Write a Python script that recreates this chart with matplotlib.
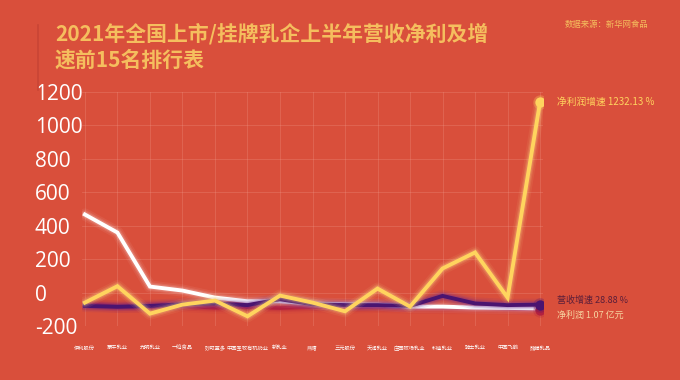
import matplotlib
matplotlib.use("Agg")
import matplotlib.pyplot as plt
import numpy as np

plt.rcParams['font.family'] = ['Noto Sans CJK SC', 'DejaVu Sans']

companies = ["伊利股份", "蒙牛乳业", "光明乳业", "一鸣食品", "妙可蓝多", "中国圣牧有机奶业",
             "新乳业", "燕塘", "三元股份", "天润乳业", "庄园牧场乳业", "科迪乳业",
             "骑士乳业", "中国飞鹤", "熊猫乳品"]
revenue = [467, 359, 36, 12, -30, -52, -52, -66, -70, -72, -84, -84, -90, -92, -95]
revenue_growth = [-80, -85, -80, -70, -65, -75, -40, -70, -75, -75, -80, -20, -65, -75, -72]
net_profit = [-70, -85, -85, -80, -90, -85, -92, -85, -90, -85, -90, -92, -92, -95, -102]
profit_growth = [-60, 38, -126, -72, -48, -142, -18, -60, -112, 24, -84, 144, 240, -30, 1140]
yticks = [-200, 0, 200, 400, 600, 800, 1000, 1200]

bg = '#D94F3B'
fig = plt.figure(figsize=(6.8, 3.8), dpi=100, facecolor=bg)
ax = fig.add_axes([82/680, 1-326/380, 461/680, 234/380], facecolor=bg)
x = np.arange(len(companies))

def glow_line(vals, color, lw, z, glow='#ffffff', galpha=0.06):
    for w, a in [(lw+6, galpha), (lw+3.5, galpha*1.6), (lw+1.8, galpha*2.5)]:
        ax.plot(x, vals, color=glow, lw=w, alpha=a, solid_capstyle='round', zorder=z)
    ax.plot(x, vals, color=color, lw=lw, solid_joinstyle='miter', zorder=z+0.5)

glow_line(net_profit, '#B3203F', 2.8, 3, glow='#B3203F', galpha=0.1)
glow_line(revenue, '#FFFFFF', 2.8, 4, glow='#FFFFFF', galpha=0.06)
glow_line(revenue_growth, '#4A1470', 2.8, 5, glow='#6A2890', galpha=0.1)
glow_line(profit_growth, '#FFD45E', 2.8, 6, glow='#FFE08A', galpha=0.08)

# end markers
for vals, c, gz in [(net_profit, '#B3203F', 7), (revenue_growth, '#4A1470', 8), (profit_growth, '#FFD45E', 9)]:
    ax.scatter([x[-1]], [vals[-1]], s=110, color=c, alpha=0.25, zorder=gz, linewidths=0)
    ax.scatter([x[-1]], [vals[-1]], s=55, color=c, zorder=gz, linewidths=0)

ax.annotate("净利润增速 1232.13 %", (x[-1], profit_growth[-1]), xytext=(12, 0),
            textcoords='offset points', va='center', ha='left', color='#FFD45E',
            fontsize=7, annotation_clip=False)
ax.annotate("营收增速 28.88 %", (x[-1], revenue_growth[-1]), xytext=(12, 3),
            textcoords='offset points', va='center', ha='left', color='#5A1E3A',
            fontsize=6.5, annotation_clip=False)
ax.annotate("净利润 1.07 亿元", (x[-1], net_profit[-1]), xytext=(12, -4),
            textcoords='offset points', va='center', ha='left', color='#F6D4A0',
            fontsize=6.5, annotation_clip=False)

ax.set_xlim(-0.09, len(companies) - 1 + 0.09)
ax.set_ylim(-200, 1200)
ax.set_yticks(yticks)
ax.set_yticklabels([str(v) for v in yticks], color='white', fontsize=15, fontfamily='Open Sans')
for lab in ax.get_yticklabels():
    lab.set_horizontalalignment('left')
ax.tick_params(axis='y', length=0, pad=34)
ax.set_xticks(x)
ax.set_xticklabels(companies, color='white', fontsize=3.8)
ax.tick_params(axis='x', length=0, pad=14)
ax.grid(True, color='#F2A090', alpha=0.3, lw=0.6)
ax.set_axisbelow(True)
for s in ax.spines.values():
    s.set_visible(False)

fig.text(55/680, 1-34/380, "2021年全国上市/挂牌乳企上半年营收净利及增", color='#F5BE5E',
         fontsize=15, fontweight='bold', va='center', ha='left')
fig.text(55/680, 1-60/380, "速前15名排行表", color='#F5BE5E',
         fontsize=15, fontweight='bold', va='center', ha='left')
fig.text(565/680, 1-25/380, "数据来源：新华网食品", color='#F5BE5E', fontsize=6,
         va='center', ha='left')
fig.add_artist(plt.Line2D([38/680, 38/680], [1-90/380, 1-25/380], color='#C94535', lw=1.2))

fig.savefig("out.png", dpi=100, facecolor=bg)
